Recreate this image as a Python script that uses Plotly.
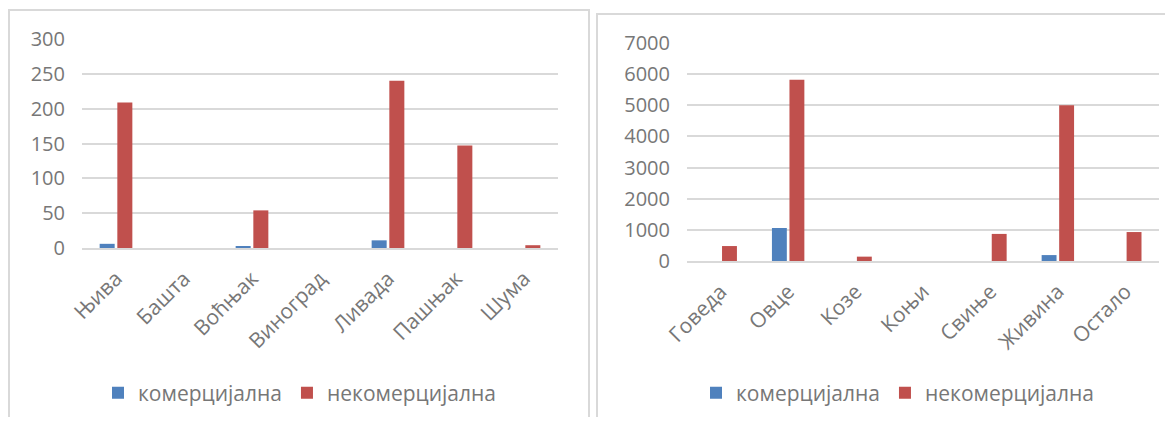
import plotly.graph_objects as go

# Page body keeps a default 8px margin, so the figure is laid out in page pixels minus that offset
OFF = 8
W, H = 1173 - 2 * OFF, 425 - 2 * OFF

# Left chart: land use
land_categories = ["Њива", "Башта", "Воћњак", "Виноград", "Ливада", "Пашњак", "Шума"]
land_commercial = [6, 0, 2, 0, 11, 0, 0]
land_noncommercial = [209, 0, 54, 0, 240, 147, 4]
land_ticks = [0, 50, 100, 150, 200, 250, 300]

# Right chart: livestock
stock_categories = ["Говеда", "Овце", "Козе", "Коњи", "Свиње", "Живина", "Остало"]
stock_commercial = [0, 1060, 0, 0, 0, 190, 0]
stock_noncommercial = [480, 5820, 140, 0, 870, 5000, 930]
stock_ticks = [0, 1000, 2000, 3000, 4000, 5000, 6000, 7000]

series_names = ["комерцијална", "некомерцијална"]
BLUE = "#4F81BD"
RED = "#C0504D"
TXT = "#777777"
GRID = "#d9d9d9"
FONT = "Open Sans"

def px_x(v):
    return (v - OFF) / W

def px_y(v):
    return 1 - (v - OFF) / H

fig = go.Figure()

fig.add_trace(go.Bar(x=land_categories, y=land_commercial, name=series_names[0],
                     marker_color=BLUE, xaxis="x", yaxis="y", legend="legend"))
fig.add_trace(go.Bar(x=land_categories, y=land_noncommercial, name=series_names[1],
                     marker_color=RED, xaxis="x", yaxis="y", legend="legend"))
fig.add_trace(go.Bar(x=stock_categories, y=stock_commercial, name=series_names[0],
                     marker_color=BLUE, xaxis="x2", yaxis="y2", legend="legend2"))
fig.add_trace(go.Bar(x=stock_categories, y=stock_noncommercial, name=series_names[1],
                     marker_color=RED, xaxis="x2", yaxis="y2", legend="legend2"))

xcommon = dict(showgrid=False, showline=True, linecolor=GRID, linewidth=2,
               ticks="", tickangle=-45, tickfont=dict(family=FONT, size=21, color=TXT),
               ticklabelstandoff=8, automargin=False, fixedrange=True)
ycommon = dict(showgrid=True, gridcolor=GRID, gridwidth=2, zeroline=False,
               showline=False, ticks="", tickfont=dict(family=FONT, size=20, color=TXT),
               ticklabelstandoff=16, automargin=False, fixedrange=True)

fig.update_layout(
    template="none",
    width=W, height=H,
    margin=dict(l=0, r=0, t=0, b=0, autoexpand=False),
    paper_bgcolor="white", plot_bgcolor="white",
    barmode="group", bargap=0.48, bargroupgap=0.15,
    xaxis=dict(domain=[px_x(82), px_x(558)], anchor="y", **xcommon),
    yaxis=dict(domain=[px_y(248), px_y(39)], anchor="x", range=[0, 300],
               tickvals=land_ticks, **ycommon),
    xaxis2=dict(domain=[px_x(687), px_x(1159)], anchor="y2", **xcommon),
    yaxis2=dict(domain=[px_y(261), px_y(43)], anchor="x2", range=[0, 7000],
                tickvals=stock_ticks, **ycommon),
    legend=dict(orientation="h", x=px_x(300), xanchor="center", y=px_y(393), yanchor="middle",
                font=dict(family=FONT, size=21, color=TXT), itemwidth=30,
                bgcolor="rgba(0,0,0,0)"),
    legend2=dict(orientation="h", x=px_x(898), xanchor="center", y=px_y(393), yanchor="middle",
                 font=dict(family=FONT, size=21, color=TXT), itemwidth=30,
                 bgcolor="rgba(0,0,0,0)"),
    shapes=[
        dict(type="rect", xref="paper", yref="paper", x0=px_x(9), x1=px_x(589),
             y0=-0.05, y1=px_y(10), line=dict(color=GRID, width=2), layer="below"),
        dict(type="rect", xref="paper", yref="paper", x0=px_x(597), x1=1.05,
             y0=-0.05, y1=px_y(14), line=dict(color=GRID, width=2), layer="below"),
    ],
)

fig.write_html("out.html")
